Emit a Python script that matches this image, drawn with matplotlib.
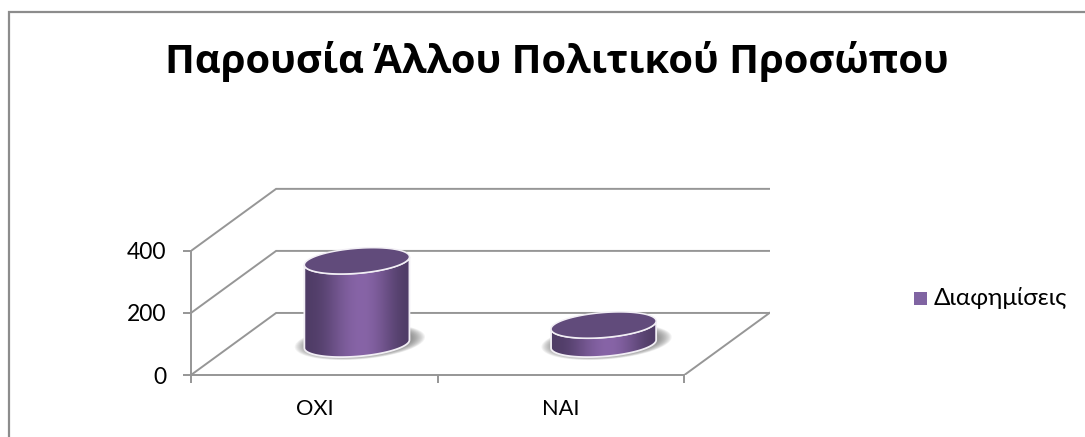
"""
Cylinder chart drawn by hand on a flat axes, the depth of the box is a fixed offset.
"""
import matplotlib
matplotlib.use("Agg")
import matplotlib.pyplot as plt
import numpy as np
from matplotlib.lines import Line2D
from matplotlib.patches import Polygon, Rectangle
from matplotlib.path import Path

categories = ["ΟΧΙ", "ΝΑΙ"]
values = [268, 61]
y_ticks = [0, 200, 400]
series_name = "Διαφημίσεις"
title = "Παρουσία Άλλου Πολιτικού Προσώπου"

W, H = 1085, 437
GREY = "#969696"
DEPTH_X = 0.345
DEPTH_Y = 200
# px per data unit on each axis
PX_X = 246.5
PX_Y = 0.31

plt.rcParams["font.family"] = ["Lato", "Open Sans", "DejaVu Sans"]

fig = plt.figure(figsize=(W / 100, H / 100), dpi=100)
ax = fig.add_axes([191 / W, 1 - 375 / H, (769.5 - 191) / W, 188 / H])
ax.set_xlim(0, 2 + DEPTH_X)
ax.set_ylim(0, 400 + DEPTH_Y + 6)
ax.patch.set_visible(False)


def ellipse_xy(cx, cy, a=52.5, b=12.5, tilt=4, n=200, t=None):
    """ Tilted ellipse on the floor plane, sizes in px, result in data units. """
    if t is None:
        t = np.linspace(0, 2 * np.pi, n)
    x = cx + a * np.cos(t) / PX_X
    y = cy + (tilt * np.cos(t) + b * np.sin(t)) / PX_Y
    return np.column_stack([x, y])


# box
for tick in y_ticks:
    ax.plot([0, DEPTH_X, 2 + DEPTH_X], [tick, tick + DEPTH_Y, tick + DEPTH_Y],
            color=GREY, lw=1.4, solid_joinstyle="miter", zorder=1)
ax.plot([2, 2 + DEPTH_X], [0, DEPTH_Y], color=GREY, lw=1.4, zorder=1)

for spine in ["top", "right"]:
    ax.spines[spine].set_visible(False)
ax.spines["left"].set_bounds(0, 400)
ax.spines["bottom"].set_bounds(0, 2)
ax.spines["left"].set_color(GREY)
ax.spines["bottom"].set_color(GREY)
ax.spines["left"].set_linewidth(1.4)
ax.spines["bottom"].set_linewidth(1.4)

ax.set_yticks(y_ticks)
ax.set_xticks([0, 1, 2])
ax.set_xticklabels([])
ax.set_xticks([0.5, 1.5], categories, minor=True)
ax.tick_params(axis="y", length=6, width=1.4, color=GREY, labelsize=16.5, pad=12, labelcolor="black")
ax.tick_params(axis="x", which="major", length=6, width=1.4, color=GREY)
ax.tick_params(axis="x", which="minor", length=0, labelsize=15.7, pad=17, labelcolor="black")

# cylinders
gradient = np.array([[0.0, 0.12, 0.4, 0.62, 0.7, 0.55, 0.25, 0.0]])
cyl_cmap = matplotlib.colors.LinearSegmentedColormap.from_list("cyl", ["#4f3c66", "#8a66aa"])
for i, value in enumerate(values):
    cx = i + 0.5 + DEPTH_X / 2
    base = DEPTH_Y / 2
    top = base + value

    # soft shadow on the floor
    for scale in np.linspace(1.24, 1.0, 14):
        shadow = ellipse_xy(cx + 3 / PX_X, base + 2 / PX_Y, a=52.5 * scale, b=14 * scale,
                            tilt=4 * scale)
        ax.add_patch(Polygon(shadow, closed=True, fc="#666666", ec="none", alpha=0.07, zorder=2))

    t_front = np.linspace(np.pi, 2 * np.pi, 100)
    bottom_half = ellipse_xy(cx, base, t=t_front)
    top_half = ellipse_xy(cx, top, t=t_front)[::-1]
    body = np.vstack([bottom_half, top_half])

    ax.add_patch(Polygon(body, closed=True, fc="none", ec="#f2eff5", lw=1.3, zorder=4))
    img = ax.imshow(gradient, cmap=cyl_cmap, vmin=0, vmax=0.7, aspect="auto",
                    interpolation="bicubic",
                    extent=[body[:, 0].min(), body[:, 0].max(), body[:, 1].min(), body[:, 1].max()],
                    zorder=3)
    img.set_clip_path(Path(body), ax.transData)

    ax.add_patch(Polygon(ellipse_xy(cx, top), closed=True, fc="#614b7b", ec="#f2eff5", lw=1.1, zorder=5))

ax.set_xlim(0, 2 + DEPTH_X)
ax.set_ylim(0, 400 + DEPTH_Y + 6)

# title and legend
fig.text(557 / W, 1 - 61 / H, title, ha="center", va="center", fontsize=28.8,
         fontweight="bold", color="black", family=["Open Sans", "DejaVu Sans"])
fig.patches.append(Rectangle((914 / W, 1 - 305 / H), 13 / W, 13 / H, transform=fig.transFigure,
                             fc="#8064a2", ec="none"))
fig.text(934 / W, 1 - 298 / H, series_name, ha="left", va="center", fontsize=17.5, color="black")

# chart frame, right and bottom are cut off
fig.add_artist(Line2D([8.5 / W, 8.5 / W, 1], [0, 1 - 11.5 / H, 1 - 11.5 / H],
                      color="#8c8c8c", lw=1.6, solid_joinstyle="miter"))

plt.savefig("out.png", dpi=100)
